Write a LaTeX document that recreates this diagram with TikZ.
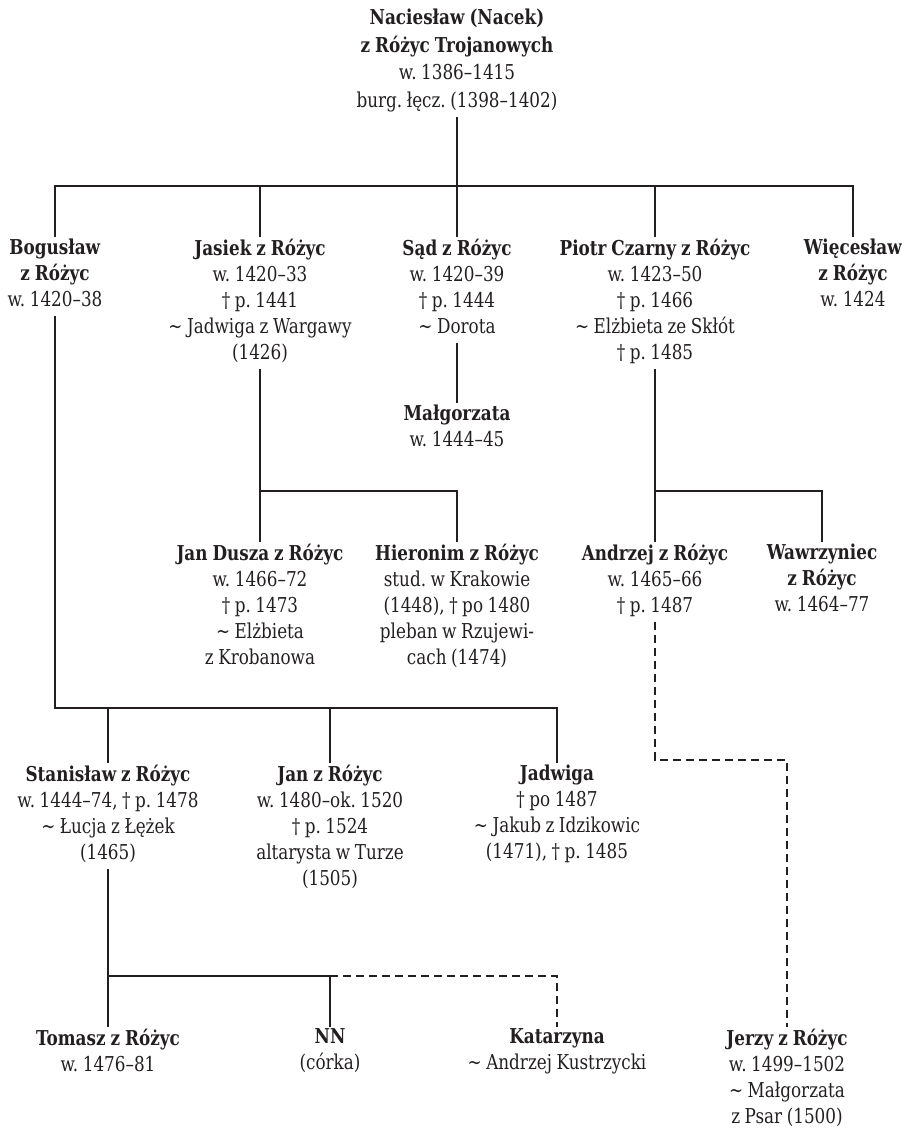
\documentclass[tikz,border=0pt]{standalone}
\usepackage{fontspec}
\setmainfont{DejaVu Serif}[FakeStretch=0.82,WordSpace=0.85]
\frenchspacing
\definecolor{ink}{HTML}{231F20}
\tikzset{person/.style={align=center, inner sep=0pt, outer sep=2pt, anchor=north, text=ink,
  font=\fontsize{20.5}{26}\selectfont, execute at begin node=\strut, execute at end node=\strut},
  link/.style={draw=ink, line width=2.8pt},
  maybe/.style={link, dash pattern=on 8pt off 5pt}}
\begin{document}
\begin{tikzpicture}[x=1pt,y=-1pt,line cap=butt,line join=miter]
 \useasboundingbox (0,0) rectangle (904,1128);
 % generation 1
 \node[person,font=\fontsize{20.5}{27.5}\selectfont] (root) at (457,7) {\textbf{Naciesław (Nacek)}\\ \textbf{z Różyc Trojanowych}\\ w. 1386–1415\\ burg. łęcz. (1398–1402)};
 % generation 2
 \node[person] (bog) at (55,237) {\textbf{Bogusław}\\ \textbf{z Różyc}\\ w. 1420–38};
 \node[person] (jas) at (260,237) {\textbf{Jasiek z Różyc}\\ w. 1420–33\\ † p. 1441\\ \textasciitilde{} Jadwiga z Wargawy\\ (1426)};
 \node[person] (sad) at (457,237) {\textbf{Sąd z Różyc}\\ w. 1420–39\\ † p. 1444\\ \textasciitilde{} Dorota};
 \node[person] (pio) at (655,237) {\textbf{Piotr Czarny z Różyc}\\ w. 1423–50\\ † p. 1466\\ \textasciitilde{} Elżbieta ze Skłót\\ † p. 1485};
 \node[person] (wie) at (853,237) {\textbf{Więcesław}\\ \textbf{z Różyc}\\ w. 1424};
 % generation 3
 \node[person] (mal) at (457,403) {\textbf{Małgorzata}\\ w. 1444–45};
 \node[person] (dus) at (260,542) {\textbf{Jan Dusza z Różyc}\\ w. 1466–72\\ † p. 1473\\ \textasciitilde{} Elżbieta\\ z Krobanowa};
 \node[person] (hie) at (457,542) {\textbf{Hieronim z Różyc}\\ stud. w Krakowie\\ (1448), † po 1480\\ pleban w Rzujewi-\\ cach (1474)};
 \node[person] (and) at (655,542) {\textbf{Andrzej z Różyc}\\ w. 1465–66\\ † p. 1487};
 \node[person] (waw) at (822,542) {\textbf{Wawrzyniec}\\ \textbf{z Różyc}\\ w. 1464–77};
 \node[person] (sta) at (108,763) {\textbf{Stanisław z Różyc}\\ w. 1444–74, † p. 1478\\ \textasciitilde{} Łucja z Łężek\\ (1465)};
 \node[person] (jan) at (330,763) {\textbf{Jan z Różyc}\\ w. 1480–ok. 1520\\ † p. 1524\\ altarysta w Turze\\ (1505)};
 \node[person] (jad) at (557,763) {\textbf{Jadwiga}\\ † po 1487\\ \textasciitilde{} Jakub z Idzikowic\\ (1471), † p. 1485};
 % generation 4
 \node[person] (tom) at (108,1027) {\textbf{Tomasz z Różyc}\\ w. 1476–81};
 \node[person] (nn) at (330,1027) {\textbf{NN}\\ (córka)};
 \node[person] (kat) at (557,1027) {\textbf{Katarzyna}\\ \textasciitilde{} Andrzej Kustrzycki};
 \node[person] (jer) at (787,1027) {\textbf{Jerzy z Różyc}\\ w. 1499–1502\\ \textasciitilde{} Małgorzata\\ z Psar (1500)};
 % bars
 \coordinate (r) at (0,186);
 \coordinate (j) at (0,491);
 \coordinate (b) at (0,708);
 \coordinate (a) at (0,760);
 \coordinate (s) at (0,976);
 \draw[link] (root.south) -- (root.south |- r);
 \draw[link] (bog.north) -- (bog.north |- r) -- (wie.north |- r) -- (wie.north);
 \foreach \n in {jas,sad,pio}
 \draw[link] (\n.north) -- (\n.north |- r);
 \draw[link] (sad.south) -- (mal.north);
 \draw[link] (jas.south) -- (dus.north);
 \draw[link] (dus.north |- j) -| (hie.north);
 \draw[link] (pio.south) -- (and.north);
 \draw[link] (and.north |- j) -| (waw.north);
 \draw[maybe] (and.south) |- (jer.north |- a) -- (jer.north);
 \draw[link] (bog.south) |- (jad.north |- b) -- (jad.north);
 \foreach \n in {sta,jan}
 \draw[link] (\n.north) -- (\n.north |- b);
 \draw[link] (sta.south) -- (tom.north);
 \draw[link] (tom.north |- s) -| (nn.north);
 \draw[maybe] (nn.north |- s) -| (kat.north);
\end{tikzpicture}
\end{document}
